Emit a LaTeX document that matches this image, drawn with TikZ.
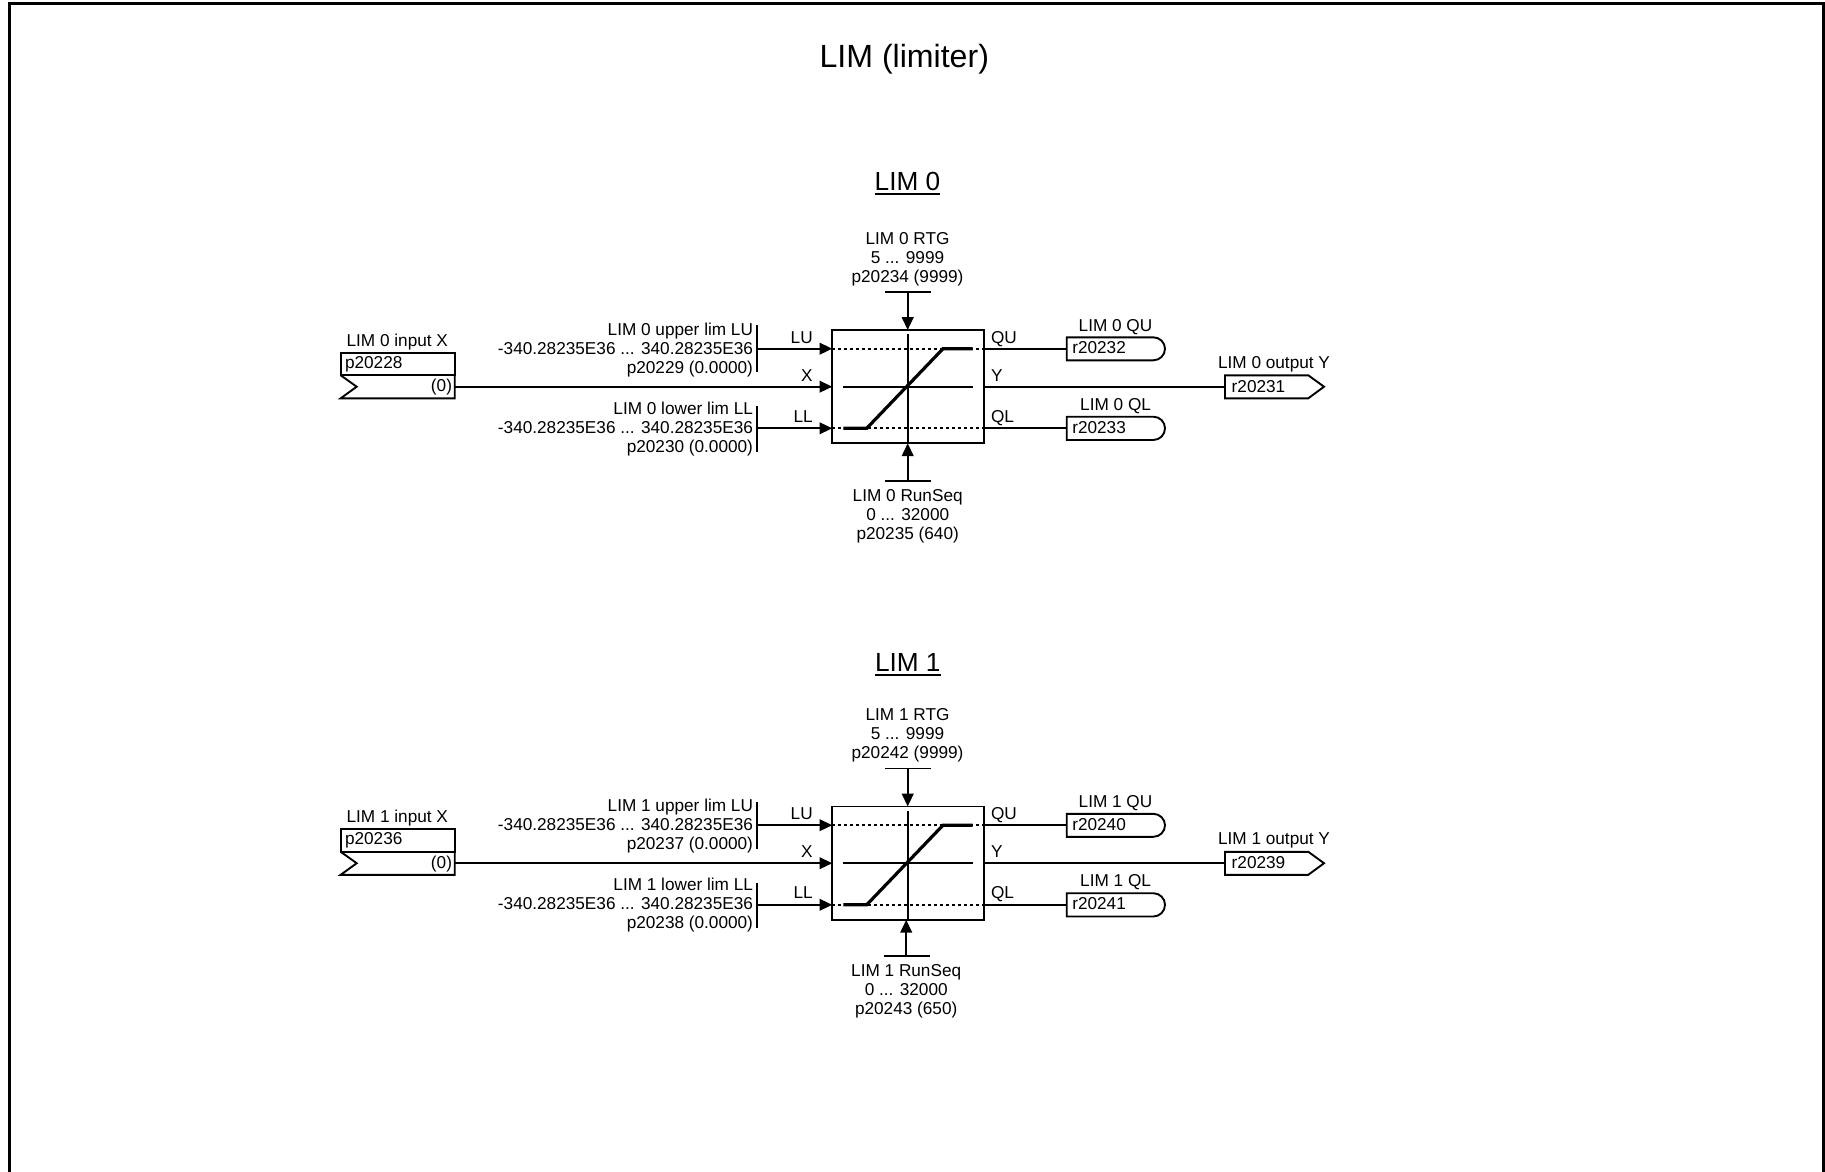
\documentclass[tikz,border=0pt]{standalone}
\usepackage{fontspec}
\setmainfont{Liberation Sans}
\usetikzlibrary{arrows.meta}
\tikzset{
  x=0.5pt,y=-0.5pt,
  txt/.style={inner sep=0pt,outer sep=0pt,font=\fontsize{8.6}{9.5}\selectfont},
  txtL/.style={txt,anchor=base west},
  txtR/.style={txt,anchor=base east,align=right},
  txtC/.style={txt,anchor=base,align=center},
  wire/.style={line width=1pt,line cap=butt},
  arrowwire/.style={wire,-{Triangle[length=6.4pt,width=5.8pt]}},
  outline/.style={line width=0.95pt,line join=miter},
  dotline/.style={line width=0.9pt,dash pattern=on 1.5pt off 1.5pt},
  curveline/.style={line width=1.6pt,line join=miter},
  blockbox/.style={draw,line width=0.9pt,minimum width=75.7pt,minimum height=56.65pt,inner sep=0pt,outer sep=0pt},
  headline/.style={inner sep=0pt,outer sep=0pt,font=\fontsize{13.1}{15}\selectfont,anchor=base},
}
% #1 index, #2 input par, #3 upper par, #4 lower par, #5 RTG par, #6 RunSeq par, #7 QU, #8 QL, #9 Y
\newcommand{\limblock}[9]{%
  % block and fixed points
  \node[blockbox] (blk#1) at (908,386.7) {};
  \coordinate (luend#1) at (756.7,348.7);
  \coordinate (llend#1) at (756.7,428.3);
  \coordinate (xend#1) at (454.7,386.7);
  \coordinate (quend#1) at (1066.7,348.7);
  \coordinate (qlend#1) at (1066.7,428.3);
  \coordinate (yend#1) at (1225,386.7);
  \coordinate (rtg#1) at (907.7,292);
  \coordinate (run#1) at ({907.7+\botdx},{481+\botdy});
  \coordinate (top#1) at (907.7,330);
  \coordinate (bot#1) at ({907.7+\botdx},443.3);
  % interior of the block
  \draw[dotline] (blk#1.west |- luend#1) -- (blk#1.east |- luend#1);
  \draw[dotline] (blk#1.west |- llend#1) -- (blk#1.east |- llend#1);
  \draw[wire] (907.7,334.3) -- (907.7,443.3);
  \draw[wire] (843.3,386.7) -- (972.7,386.7);
  \draw[curveline] (843.3,428.3) -- (866.7,428.3) -- (943,348.7) -- (972.7,348.7);
  % input connector
  \draw[outline] (340.7,352.7) rectangle (454.7,375.3);
  \draw[outline] (340.7,375.3) -- (356.7,386.7) -- (340.7,398.3) -- (454.7,398.3) -- (454.7,375.3);
  \node[txtC] (inlab#1) at (397.3,346.4) {LIM #1 input X};
  \node[txtL] (inpar#1) at (345,368.3) {#2};
  \node[txtR] (indef#1) at (452,391.6) {(0)};
  \draw[arrowwire] (xend#1) -- (blk#1.west |- xend#1);
  % limits
  \draw[outline] (756.7,325) -- (756.7,372.3);
  \draw[outline] (756.7,406) -- (756.7,451.7);
  \node[txtR] (uplab#1) at (753,373.3) {LIM #1 upper lim LU\\-340.28235E36 ... 340.28235E36\\#3 (0.0000)};
  \node[txtR] (lolab#1) at (753,452.3) {LIM #1 lower lim LL\\-340.28235E36 ... 340.28235E36\\#4 (0.0000)};
  \draw[arrowwire] (luend#1) -- (blk#1.west |- luend#1);
  \draw[arrowwire] (llend#1) -- (blk#1.west |- llend#1);
  \node[txtR] (lulab#1) at (812.7,343.3) {LU};
  \node[txtR] (xlab#1) at (812.7,381) {X};
  \node[txtR] (lllab#1) at (812.7,422.3) {LL};
  % top and bottom parameters
  \draw[outline] (885,292) -- (931,292);
  \draw[arrowwire] (rtg#1) -- (top#1);
  \node[txtC] (rtglab#1) at (907.5,282.2) {LIM #1 RTG\\5 ... 9999\\#5};
  \draw[outline] ({885+\botdx},{481+\botdy}) -- ({931+\botdx},{481+\botdy});
  \draw[arrowwire] (run#1) -- (bot#1);
  \node[txtC] (runlab#1) at ({907.7+\botdx},{539.3+\botdy}) {LIM #1 RunSeq\\0 ... 32000\\#6};
  % outputs
  \draw[wire,line width=0.9pt] (blk#1.east |- quend#1) -- (quend#1);
  \draw[wire,line width=0.9pt] (blk#1.east |- qlend#1) -- (qlend#1);
  \draw[wire,line width=0.9pt] (blk#1.east |- yend#1) -- (yend#1);
  \node[txtL] (qulab#1) at (991,343.3) {QU};
  \node[txtL] (ylab#1) at (991,381.3) {Y};
  \node[txtL] (qllab#1) at (991,422.3) {QL};
  \draw[outline] (1066.7,337.3) -- (1153.3,337.3) .. controls (1159.7,337.3) and (1165,342.4) .. (1165,348.8) .. controls (1165,355.2) and (1159.7,360.3) .. (1153.3,360.3) -- (1066.7,360.3) -- cycle;
  \draw[outline] (1066.7,416.7) -- (1153.3,416.7) .. controls (1159.7,416.7) and (1165,421.8) .. (1165,428.3) .. controls (1165,434.8) and (1159.7,440) .. (1153.3,440) -- (1066.7,440) -- cycle;
  \draw[outline] (1225,375.3) -- (1308.3,375.3) -- (1324,386.7) -- (1308.3,398.3) -- (1225,398.3) -- cycle;
  \node[txtC] (qutxt#1) at (1115.5,331.3) {LIM #1 QU};
  \node[txtL] (qupar#1) at (1072.3,353.5) {#7};
  \node[txtC] (qltxt#1) at (1115.6,410.3) {LIM #1 QL};
  \node[txtL] (qlpar#1) at (1072.3,433.3) {#8};
  \node[txtC] (ytxt#1) at (1274,368.3) {LIM #1 output Y};
  \node[txtL] (ypar#1) at (1231.7,392) {#9};
}
\begin{document}
\begin{tikzpicture}
  \useasboundingbox (0,0) rectangle (1825,1172);
  \fill[white] (0,0) rectangle (1825,1172);
  % sheet frame (open at the bottom)
  \draw[line width=1.5pt,line join=miter] (9.5,1172) -- (9.5,4) -- (1823.5,4) -- (1823.5,1172);
  % title and headings
  \node[inner sep=0pt,outer sep=0pt,font=\fontsize{16.05}{18}\selectfont,anchor=base] (title) at (904.3,67.4) {LIM (limiter)};
  \node[headline] (headA) at (907.5,190.7) {LIM 0};
  \draw[line width=0.75pt] ([yshift=-1.7pt]headA.base west) -- ([yshift=-1.7pt]headA.base east);
  \node[headline] (headB) at (907.8,671.7) {LIM 1};
  \draw[line width=0.75pt] ([yshift=-1.7pt]headB.base west) -- ([yshift=-1.7pt]headB.base east);
  % block LIM 0
  \def\botdx{0}\def\botdy{0}
  \begin{scope}
    \limblock{0}{p20228}{p20229}{p20230}{p20234 (9999)}{p20235 (640)}{r20232}{r20233}{r20231}
  \end{scope}
  % block LIM 1
  \def\botdx{-1.5}\def\botdy{-1.7}
  \begin{scope}[shift={(0,476.5)}]
    \limblock{1}{p20236}{p20237}{p20238}{p20242 (9999)}{p20243 (650)}{r20240}{r20241}{r20239}
  \end{scope}
\end{tikzpicture}
\end{document}
